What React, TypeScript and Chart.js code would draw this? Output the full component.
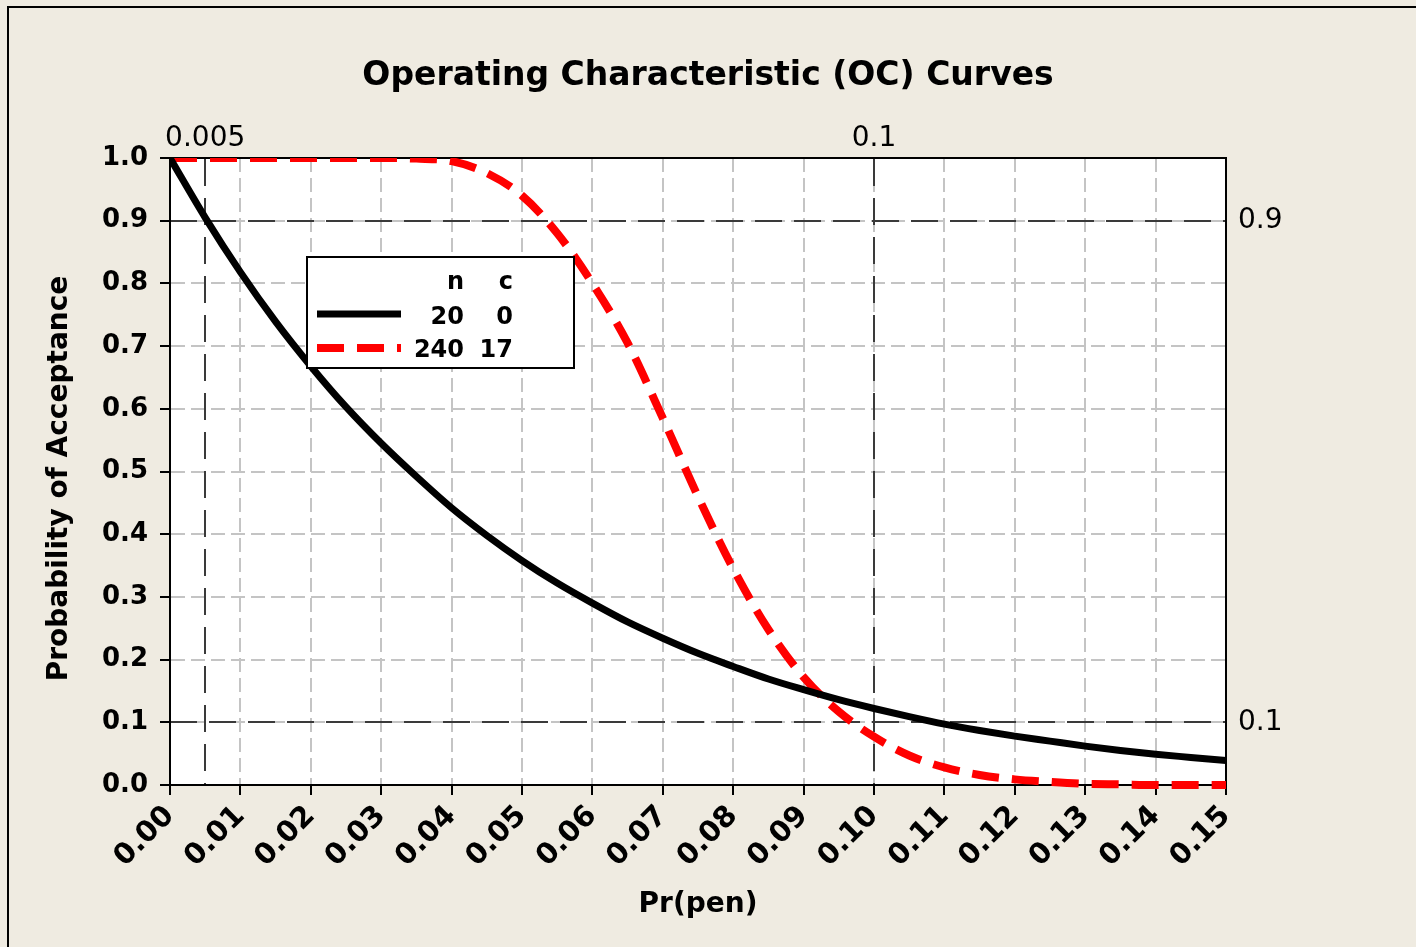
import React, { useEffect, useRef } from 'react';
import { Chart, registerables } from 'chart.js';

Chart.register(...registerables);

// ---- data ----
const pValues = [
  0, 0.005, 0.01, 0.015, 0.02, 0.025, 0.03, 0.035, 0.04, 0.045, 0.05,
  0.055, 0.06, 0.065, 0.07, 0.075, 0.08, 0.085, 0.09, 0.095, 0.1,
  0.105, 0.11, 0.115, 0.12, 0.125, 0.13, 0.135, 0.14, 0.145, 0.15,
];
const acceptN20C0 = [
  1.0, 0.905, 0.818, 0.739, 0.668, 0.603, 0.545, 0.492, 0.442, 0.398, 0.358,
  0.322, 0.29, 0.26, 0.234, 0.21, 0.189, 0.169, 0.152, 0.136, 0.122,
  0.109, 0.097, 0.087, 0.078, 0.07, 0.062, 0.055, 0.049, 0.044, 0.039,
];
const acceptN240C17 = [
  1.0, 1.0, 1.0, 1.0, 1.0, 1.0, 1.0, 0.999, 0.995, 0.976, 0.94,
  0.88, 0.8, 0.705, 0.585, 0.46, 0.345, 0.248, 0.172, 0.117, 0.077,
  0.047, 0.028, 0.016, 0.009, 0.005, 0.002, 0.001, 0.0, 0.0, 0.0,
];
const xTickValues = [
  0, 0.01, 0.02, 0.03, 0.04, 0.05, 0.06, 0.07, 0.08, 0.09, 0.1, 0.11, 0.12, 0.13, 0.14, 0.15,
];
const yTickValues = [0, 0.1, 0.2, 0.3, 0.4, 0.5, 0.6, 0.7, 0.8, 0.9, 1.0];
const topRefValues = [0.005, 0.1];
const rightRefValues = [0.1, 0.9];
const legendHeader = ['n', 'c'];
const planN = [20, 240];
const planC = [0, 17];

const FONT = "'DejaVu Sans', Verdana, sans-serif";
const BG = '#EFEBE1';

const plotBackground = {
  id: 'plotBackground',
  beforeDraw(chart: any) {
    const { ctx, chartArea: a } = chart;
    ctx.save();
    ctx.fillStyle = '#ffffff';
    ctx.fillRect(a.left, a.top, a.right - a.left, a.bottom - a.top);
    ctx.restore();
  },
};

const planLegend = {
  id: 'planLegend',
  afterDraw(chart: any) {
    const { ctx, chartArea: a } = chart;
    const bx = a.left + 137;
    const by = a.top + 99;
    const bw = 267;
    const bh = 111;
    ctx.save();
    ctx.fillStyle = '#ffffff';
    ctx.fillRect(bx, by, bw, bh);
    ctx.lineWidth = 2;
    ctx.strokeStyle = '#000';
    ctx.setLineDash([]);
    ctx.strokeRect(bx, by, bw, bh);

    const col1 = bx + 157;
    const col2 = bx + 206;
    ctx.font = `bold 24px ${FONT}`;
    ctx.fillStyle = '#000';
    ctx.textAlign = 'right';
    ctx.textBaseline = 'alphabetic';
    ctx.fillText(legendHeader[0], col1, by + 32);
    ctx.fillText(legendHeader[1], col2, by + 32);

    const rowLineY = [by + 57, by + 91];
    const rowTextY = [by + 67, by + 100];
    chart.data.datasets.forEach((ds: any, i: number) => {
      ctx.save();
      ctx.strokeStyle = ds.borderColor;
      ctx.lineWidth = ds.borderWidth;
      ctx.setLineDash(ds.borderDash || []);
      ctx.lineCap = 'butt';
      ctx.beginPath();
      ctx.moveTo(bx + 10, rowLineY[i]);
      ctx.lineTo(bx + 94, rowLineY[i]);
      ctx.stroke();
      ctx.restore();
      ctx.fillText(String(planN[i]), col1, rowTextY[i]);
      ctx.fillText(String(planC[i]), col2, rowTextY[i]);
    });
    ctx.restore();
  },
};

const lightGrid = {
  color: '#c4c4c4',
  lineWidth: 2,
  tickLength: 10,
  tickColor: '#000',
  tickWidth: 2,
  tickBorderDash: [],
};

export default function App() {
  const canvasRef = useRef<HTMLCanvasElement | null>(null);

  useEffect(() => {
    if (!canvasRef.current) return;
    const chart = new Chart(canvasRef.current, {
      type: 'line',
      data: {
        datasets: [
          {
            label: 'n=20, c=0',
            data: pValues.map((p, i) => ({ x: p, y: acceptN20C0[i] })),
            borderColor: '#000000',
            borderWidth: 7,
            pointRadius: 0,
            fill: false,
            cubicInterpolationMode: 'monotone',
            clip: { left: 0, top: 0, right: 4, bottom: 4 },
          },
          {
            label: 'n=240, c=17',
            data: pValues.map((p, i) => ({ x: p, y: acceptN240C17[i] })),
            borderColor: '#ff0000',
            borderWidth: 8,
            borderDash: [27, 13],
            pointRadius: 0,
            fill: false,
            cubicInterpolationMode: 'monotone',
            clip: { left: 0, top: 0, right: 4, bottom: 4 },
          },
        ],
      } as any,
      options: {
        animation: false,
        responsive: false,
        maintainAspectRatio: false,
        devicePixelRatio: 1,
        layout: { padding: 0 },
        events: [],
        plugins: {
          legend: { display: false },
          tooltip: { enabled: false },
          title: {
            display: true,
            text: 'Operating Characteristic (OC) Curves',
            color: '#000',
            font: { family: FONT, size: 33, weight: 'bold' },
            padding: { top: 57, bottom: 10 },
          },
        },
        scales: {
          x: {
            type: 'linear',
            position: 'bottom',
            min: 0,
            max: 0.15,
            afterBuildTicks: (s: any) => {
              s.ticks = xTickValues.map((v) => ({ value: v }));
            },
            afterFit: (s: any) => {
              s.height = 162;
            },
            ticks: {
              autoSkip: false,
              minRotation: 45,
              maxRotation: 45,
              padding: 4,
              color: '#000',
              font: { family: FONT, size: 29, weight: 'bold' },
              callback: (v: any) => Number(v).toFixed(2),
            },
            grid: lightGrid,
            border: { display: true, color: '#000', width: 2, dash: [14, 6] },
            title: {
              display: true,
              text: 'Pr(pen)',
              color: '#000',
              font: { family: FONT, size: 28, weight: 'bold' },
              padding: { top: 0, bottom: 25 },
            },
          },
          y: {
            type: 'linear',
            position: 'left',
            min: 0,
            max: 1,
            afterBuildTicks: (s: any) => {
              s.ticks = yTickValues.map((v) => ({ value: v }));
            },
            afterFit: (s: any) => {
              s.width = 170;
            },
            ticks: {
              padding: 12,
              color: '#000',
              font: { family: FONT, size: 26, weight: 'bold' },
              callback: (v: any) => Number(v).toFixed(1),
            },
            grid: lightGrid,
            border: { display: true, color: '#000', width: 2, dash: [14, 6] },
            title: {
              display: true,
              text: 'Probability of Acceptance\u2002',
              color: '#000',
              font: { family: FONT, size: 28, weight: 'bold' },
              padding: { top: 43, bottom: 0 },
            },
          },
          x2: {
            type: 'linear',
            position: 'top',
            min: 0,
            max: 0.15,
            afterBuildTicks: (s: any) => {
              s.ticks = topRefValues.map((v) => ({ value: v }));
            },
            afterFit: (s: any) => {
              s.height = 51.4;
            },
            ticks: {
              autoSkip: false,
              minRotation: 0,
              maxRotation: 0,
              padding: 2,
              color: '#000',
              font: { family: FONT, size: 28 },
              callback: (v: any) => String(v),
            },
            grid: { color: '#3a3a3a', lineWidth: 2, drawTicks: false },
            border: { display: true, color: '#000', width: 2, dash: [27, 12] },
          },
          y2: {
            type: 'linear',
            position: 'right',
            min: 0,
            max: 1,
            afterBuildTicks: (s: any) => {
              s.ticks = rightRefValues.map((v) => ({ value: v }));
            },
            afterFit: (s: any) => {
              s.width = 190;
            },
            ticks: {
              padding: 12,
              color: '#000',
              font: { family: FONT, size: 28 },
              callback: (v: any) => String(v),
            },
            grid: { color: '#3a3a3a', lineWidth: 2, drawTicks: false },
            border: { display: true, color: '#000', width: 2, dash: [27, 12] },
          },
        },
      } as any,
      plugins: [plotBackground, planLegend],
    });
    return () => chart.destroy();
  }, []);

  return (
    <div
      style={{
        position: 'fixed',
        left: 0,
        top: 0,
        width: 1416,
        height: 947,
        background: BG,
        overflow: 'hidden',
      }}
    >
      <div
        style={{
          position: 'absolute',
          left: 7,
          top: 6,
          width: 1420,
          height: 950,
          borderLeft: '2px solid #000',
          borderTop: '2px solid #000',
        }}
      />
      <canvas
        ref={canvasRef}
        width={1416}
        height={947}
        style={{ position: 'absolute', left: 0, top: 0, width: 1416, height: 947 }}
      />
    </div>
  );
}
